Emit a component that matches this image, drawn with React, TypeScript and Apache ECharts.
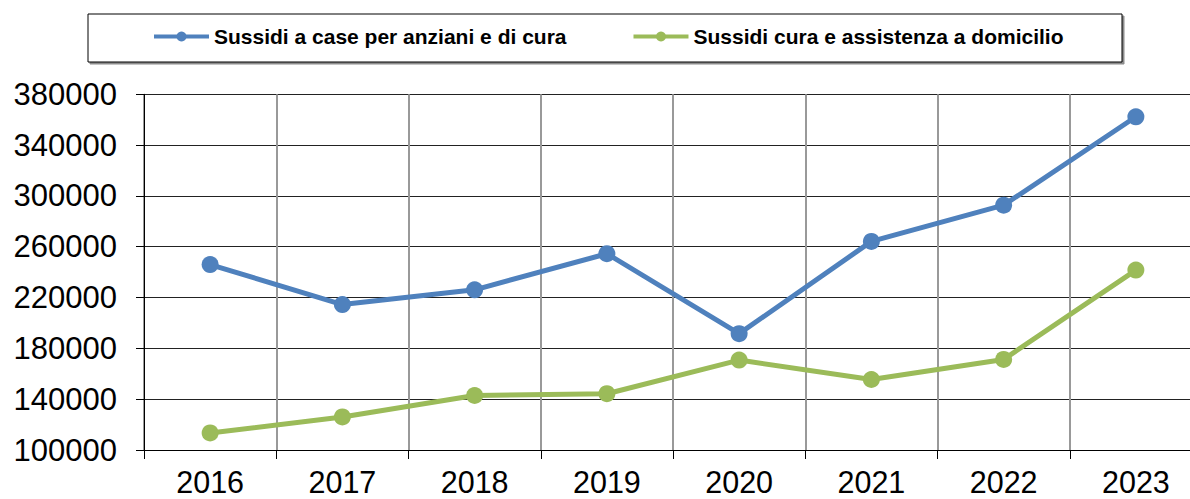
import React, { useEffect, useRef } from "react";
import * as echarts from "echarts";

const years = ["2016", "2017", "2018", "2019", "2020", "2021", "2022", "2023"];
const caseAnziani = [246000, 214500, 226100, 254500, 191600, 264200, 292700, 362300];
const curaDomicilio = [113400, 126000, 142900, 144300, 170800, 155500, 171300, 241600];
const seriesNames = ["Sussidi a case per anziani e di cura", "Sussidi cura e assistenza a domicilio"];
const colors = ["#4F81BD", "#9BBB59"];

const FONT = "'Liberation Sans', Arial, sans-serif";

export default function App() {
  const ref = useRef<HTMLDivElement>(null);
  useEffect(() => {
    if (!ref.current) return;
    const chart = echarts.init(ref.current, undefined, { renderer: "svg" });
    chart.setOption({
      animation: false,
      backgroundColor: "#ffffff",
      textStyle: { fontFamily: FONT },
      graphic: [
        {
          type: "rect",
          shape: { x: 88, y: 14, width: 1034, height: 48 },
          style: { fill: "#fff", stroke: "#000", lineWidth: 1, shadowColor: "rgba(0,0,0,0.45)", shadowOffsetX: 2, shadowOffsetY: 2, shadowBlur: 1 },
          z: -1,
        },
      ],
      legend: {
        left: 152,
        top: 26,
        padding: 0,
        itemWidth: 55,
        itemHeight: 12.5,
        itemGap: 65,
        data: seriesNames,
        lineStyle: { width: 4 },
        textStyle: { fontFamily: FONT, fontSize: 21, fontWeight: "bold", color: "#000" },
      },
      grid: { left: 144, top: 94.3, width: 1058, height: 355.7, containLabel: false, outerBoundsMode: "none" },
      xAxis: {
        type: "category",
        data: years,
        boundaryGap: true,
        axisLine: { show: true, lineStyle: { color: "#000", width: 1 } },
        axisTick: { show: true, length: 9, alignWithLabel: false, lineStyle: { color: "#000" } },
        axisLabel: { fontSize: 30.5, lineHeight: 28, color: "#000", margin: 18, fontFamily: FONT },
        splitLine: { show: true, lineStyle: { color: "#999", width: 2 } },
      },
      yAxis: {
        type: "value",
        min: 100000,
        max: 380000,
        interval: 40000,
        axisLine: { show: true, lineStyle: { color: "#000", width: 1 } },
        axisTick: { show: true, length: 8, lineStyle: { color: "#000" } },
        axisLabel: { fontSize: 31, color: "#000", margin: 27, fontFamily: FONT, formatter: (v: number) => String(v) },
        splitLine: { show: true, lineStyle: { color: "#222", width: 1 } },
      },
      series: [
        {
          name: seriesNames[0],
          type: "line",
          data: caseAnziani,
          symbol: "circle",
          symbolSize: 17,
          color: colors[0],
          lineStyle: { width: 5, color: colors[0] },
          itemStyle: { color: colors[0] },
        },
        {
          name: seriesNames[1],
          type: "line",
          data: curaDomicilio,
          symbol: "circle",
          symbolSize: 17,
          color: colors[1],
          lineStyle: { width: 5, color: colors[1] },
          itemStyle: { color: colors[1] },
        },
      ],
    });
    return () => chart.dispose();
  }, []);
  return (
    <div
      ref={ref}
      style={{ position: "fixed", left: 0, top: 0, width: 1190, height: 499 }}
    />
  );
}
